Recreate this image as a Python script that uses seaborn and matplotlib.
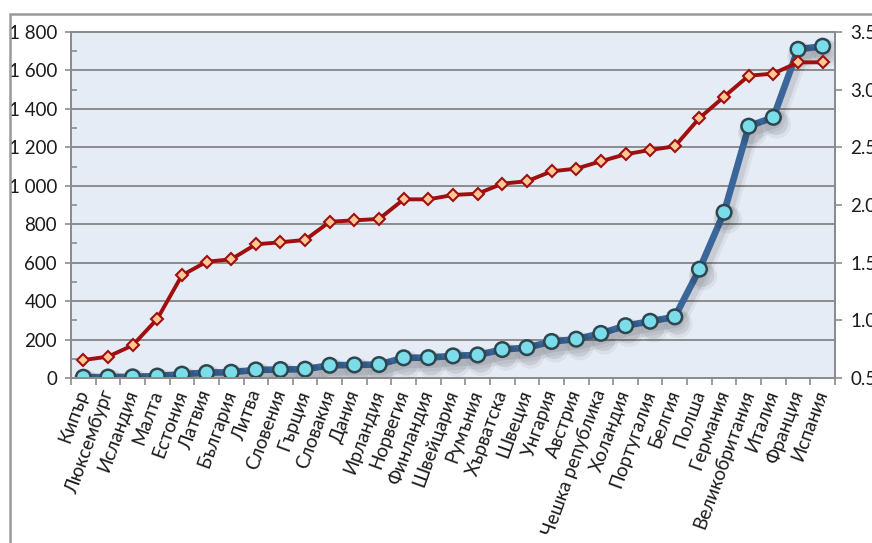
import numpy as np
import pandas as pd
import matplotlib
matplotlib.use("Agg")
import matplotlib.pyplot as plt
import matplotlib.patheffects as pe
from matplotlib.ticker import MultipleLocator, FixedLocator, FuncFormatter
from matplotlib.patches import Rectangle
import seaborn as sns

# Countries in ascending order
countries = [
    "Кипър", "Люксембург", "Исландия", "Малта", "Естония", "Латвия",
    "България", "Литва", "Словения", "Гърция", "Словакия", "Дания",
    "Ирландия", "Норвегия", "Финландия", "Швейцария", "Румъния",
    "Хърватска", "Швеция", "Унгария", "Австрия", "Чешка република",
    "Холандия", "Португалия", "Белгия", "Полша", "Германия",
    "Великобритания", "Италия", "Франция", "Испания",
]

# Left axis series (absolute values)
counts = [
    4, 5, 6, 10, 20, 28, 30, 42, 44, 46, 66, 68, 70, 105, 106, 115, 120,
    148, 158, 190, 202, 232, 272, 295, 318, 566, 862, 1310, 1356, 1710, 1726,
]

# Right axis series (log10 scale values)
log_counts = [
    0.656, 0.685, 0.783, 1.012, 1.390, 1.508, 1.529, 1.659, 1.677, 1.697,
    1.855, 1.867, 1.879, 2.049, 2.049, 2.087, 2.098, 2.185, 2.206, 2.292,
    2.315, 2.379, 2.440, 2.477, 2.509, 2.754, 2.939, 3.121, 3.139, 3.237,
    3.237,
]

left_ticks = list(range(0, 1801, 200))
right_ticks = [0.5, 1.0, 1.5, 2.0, 2.5, 3.0, 3.5]

sns.set_theme(style="white")
plt.rcParams["font.family"] = ["Lato", "DejaVu Sans"]

GRID = "#8c8c8c"
TEXT = "#1a1a1a"

df = pd.DataFrame({
    "pos": np.arange(len(countries)),
    "country": countries,
    "count": counts,
    "log": log_counts,
})

W, H = 872, 543
fig = plt.figure(figsize=(W / 100, H / 100), dpi=100)
ax = fig.add_axes([71 / W, 1 - 378 / H, (835 - 71) / W, (378 - 32) / H])
ax.set_facecolor("#E6ECF5")
ax2 = ax.twinx()

# outer chart frame
fig.patches.append(Rectangle((9.5 / W, -0.5), 2.0, 0.5 + (1 - 13.5 / H),
                             transform=fig.transFigure, fill=False,
                             edgecolor="#9a9a9a", lw=1.8, zorder=0))

# blue series with soft drop shadow
shadow = [
    pe.SimpleLineShadow(offset=(2.5, -5), shadow_color="black", alpha=0.05, linewidth=10),
    pe.SimpleLineShadow(offset=(2, -4), shadow_color="black", alpha=0.08, linewidth=7),
    pe.Normal(),
]
sns.lineplot(data=df, x="pos", y="count", ax=ax, sort=False,
             color="#3A6699", lw=4.8, marker="o", markersize=10.5,
             markerfacecolor="#7ADDE9", markeredgecolor="#2E4650",
             markeredgewidth=1.8, path_effects=shadow, zorder=3)

# red series on the secondary axis
sns.lineplot(data=df, x="pos", y="log", ax=ax2, sort=False,
             color="#A00F0F", lw=2.8, marker="D", markersize=6.2,
             markerfacecolor="#FDC893", markeredgecolor="#A00F0F",
             markeredgewidth=1.5, zorder=4)

n = len(countries)
for a in (ax, ax2):
    a.set_xlim(-0.5, n - 0.5)
    a.set_xlabel("")
    a.set_ylabel("")

ax.set_ylim(0, 1800)
ax2.set_ylim(0.5, 3.5)

# left axis
ax.yaxis.set_major_locator(FixedLocator(left_ticks))
ax.yaxis.set_minor_locator(MultipleLocator(100))
ax.yaxis.set_major_formatter(FuncFormatter(lambda v, p: f"{int(v):,}".replace(",", " ")))
ax.grid(axis="y", which="major", color=GRID, lw=1.4)
ax.grid(axis="x", visible=False)
ax.set_axisbelow(True)
ax.tick_params(axis="y", which="major", left=True, direction="out", length=4,
               width=1.2, color=GRID, labelsize=13.5, labelcolor=TEXT, pad=6)
ax.tick_params(axis="y", which="minor", left=True, direction="in", length=4,
               width=1.2, color=GRID)

# category axis: ticks between categories, rotated names
ax.xaxis.set_major_locator(FixedLocator(df["pos"].tolist()))
ax.xaxis.set_minor_locator(FixedLocator(np.arange(-0.5, n, 1.0)))
ax.set_xticklabels(countries, rotation=70, ha="right", va="center",
                   rotation_mode="anchor")
ax.tick_params(axis="x", which="major", bottom=True, length=0,
               labelsize=13.5, labelcolor=TEXT, pad=9)
ax.tick_params(axis="x", which="minor", bottom=True, direction="out",
               length=5, width=1.2, color=GRID)

# right axis
ax2.yaxis.set_major_locator(FixedLocator(right_ticks))
ax2.yaxis.set_major_formatter(FuncFormatter(lambda v, p: f"{v:.1f}"))
ax2.tick_params(axis="y", which="major", right=True, direction="out", length=5,
                width=1.2, color=GRID, labelsize=13.5, labelcolor=TEXT, pad=6)
ax2.grid(False)

for a in (ax, ax2):
    for s in a.spines.values():
        s.set_color(GRID)
        s.set_linewidth(1.4)
ax2.patch.set_visible(False)

fig.savefig("out.png", dpi=100)
